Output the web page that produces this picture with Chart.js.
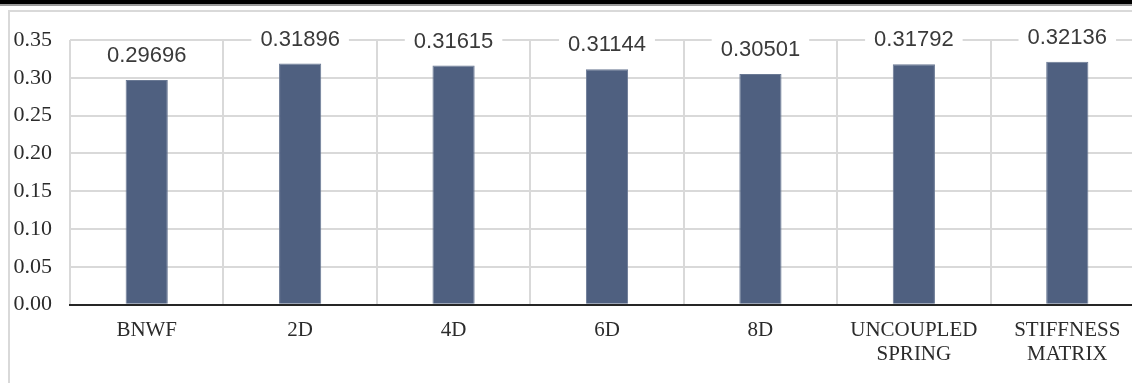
<!DOCTYPE html>
<html>
<head>
<meta charset="utf-8">
<script src="https://cdn.jsdelivr.net/npm/chart.js@4"></script>
<style>
  html, body { margin: 0; padding: 0; background: #fff; overflow: hidden; width: 1132px; height: 383px; }
  #wrap { position: absolute; left: 0; top: 0; width: 1150px; height: 383px; }
  #band { position: absolute; left: 0; top: 0; width: 1132px; height: 4px; background: #000; }
  #bandLine { position: absolute; left: 0; top: 4px; width: 1132px; height: 2px; background: #9a9a9a; }
  #frame { position: absolute; left: 8px; top: 10px; width: 1200px; height: 400px;
           border-left: 2px solid #d9d9d9; border-top: 2px solid #d9d9d9; }
</style>
</head>
<body>
<div id="wrap"><canvas id="myChart" width="1150" height="383"></canvas></div>
<div id="frame"></div>
<div id="band"></div>
<div id="bandLine"></div>
<script>
const categories = ['BNWF', '2D', '4D', '6D', '8D', ['UNCOUPLED', 'SPRING'], ['STIFFNESS', 'MATRIX']];
const seriesValues = [0.29696, 0.31896, 0.31615, 0.31144, 0.30501, 0.31792, 0.32136];
const yTicks = [0, 0.05, 0.10, 0.15, 0.20, 0.25, 0.30, 0.35];

// draws the value above each bar on a white box, like the Excel data labels
const valueLabels = {
    id: 'valueLabels',
    afterDatasetsDraw(chart) {
        const ctx = chart.ctx;
        const meta = chart.getDatasetMeta(0);
        ctx.save();
        ctx.font = '22px "Liberation Sans", Arial, sans-serif';
        ctx.textAlign = 'center';
        ctx.textBaseline = 'middle';
        meta.data.forEach(function (bar, i) {
            const text = seriesValues[i].toFixed(5);
            const w = ctx.measureText(text).width + 18;
            const cy = bar.y - 25;
            ctx.fillStyle = '#ffffff';
            ctx.fillRect(bar.x - w / 2, cy - 13, w, 26);
            ctx.fillStyle = '#3a3a3a';
            ctx.fillText(text, bar.x, cy + 1);
        });
        ctx.restore();
    }
};

const ctx = document.getElementById('myChart');
new Chart(ctx, {
    type: 'bar',
    data: {
        labels: categories,
        datasets: [{
            data: seriesValues,
            backgroundColor: '#4f6080',
            borderColor: '#6a7994',
            borderWidth: 1,
            barPercentage: 1,
            categoryPercentage: 0.275
        }]
    },
    options: {
        responsive: false,
        animation: false,
        layout: { padding: { top: 40, left: 13, right: 6, bottom: 2 } },
        plugins: {
            legend: { display: false },
            tooltip: { enabled: false }
        },
        scales: {
            x: {
                grid: { color: '#d9d9d9', lineWidth: 2, drawTicks: false, offset: true },
                border: { color: '#262626', width: 2 },
                ticks: {
                    padding: 14,
                    color: '#2b2b2b',
                    font: { family: '"Liberation Serif", "Times New Roman", serif', size: 21, lineHeight: 1.15 }
                }
            },
            y: {
                min: 0,
                max: 0.35,
                afterBuildTicks: function (axis) {
                    axis.ticks = yTicks.map(function (v) { return { value: v }; });
                },
                afterFit: function (axis) { axis.width = 57; },
                grid: { color: '#d9d9d9', lineWidth: 2, drawTicks: false },
                border: { display: false },
                ticks: {
                    padding: 18,
                    color: '#2b2b2b',
                    font: { family: '"Liberation Serif", "Times New Roman", serif', size: 22 },
                    callback: function (value) { return Number(value).toFixed(2); }
                }
            }
        }
    },
    plugins: [valueLabels]
});
</script>
</body>
</html>
